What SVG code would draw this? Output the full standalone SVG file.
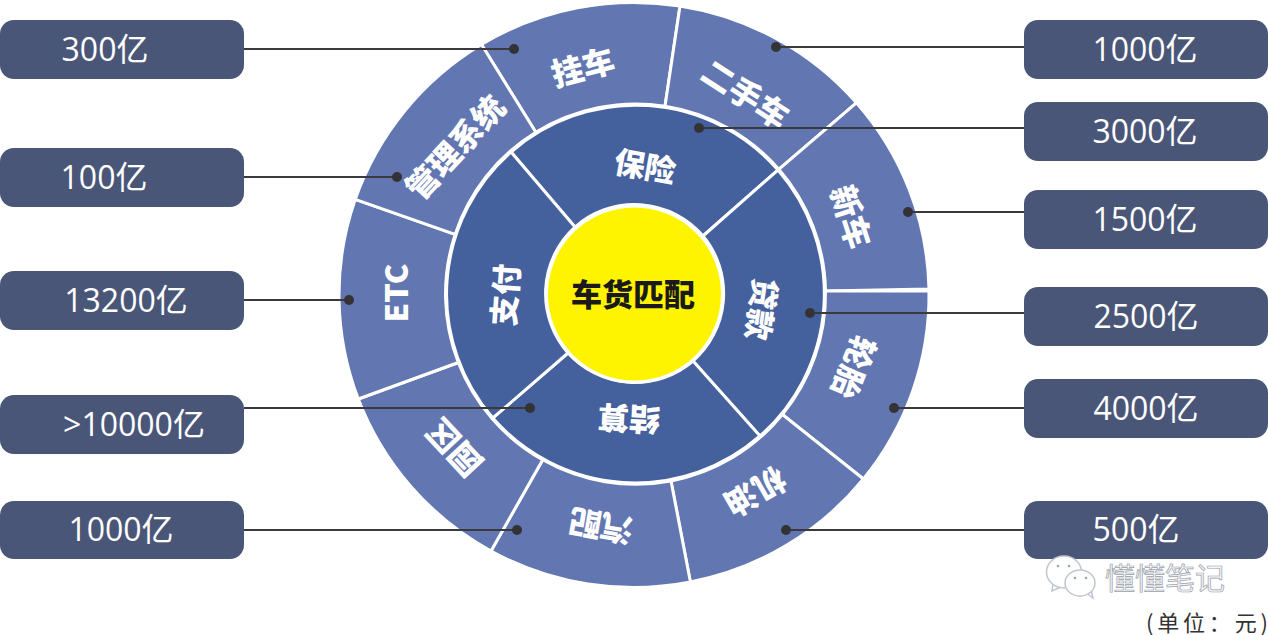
<svg xmlns="http://www.w3.org/2000/svg" width="1268" height="635" viewBox="0 0 1268 635">
<style>
.o{fill:#6277b1;stroke:#fff;stroke-width:3;stroke-linejoin:miter}
.i{fill:#44609d;stroke:#fff;stroke-width:3;stroke-linejoin:miter}
.w{font-family:"Noto Sans CJK SC","Noto Sans",sans-serif;font-weight:900;font-size:32px;fill:#fff;text-anchor:middle}
.n{font-size:31px}
.b{fill:#4a5678}
.l{font-family:"Open Sans","Noto Sans CJK SC",sans-serif;font-size:32px;fill:#fff;text-anchor:middle}
.c{stroke:#3a3a3c;stroke-width:2;fill:none}
.d{fill:#333335}
.wm{fill:#fff;stroke:#c0c5cf;stroke-width:1.5}
</style>
<rect width="1268" height="635" fill="#fff"/>
<g id="outer-ring">
<g id="guache"><path class="o" d="M481.5 44.5A295 292.5 0 0 1 680 6L665 106.3A190 190 0 0 0 535.8 132.3Z"/><text class="w" transform="translate(583 68) rotate(-15)" y="11">挂车</text></g>
<g id="ershouche"><path class="o" d="M680 6A295 292.5 0 0 1 856.4 102.8L778.8 169.3A190 190 0 0 0 665 106.3Z"/><text class="w" transform="translate(745 95) rotate(33)" y="11">二手车</text></g>
<g id="xinche"><path class="o" d="M856.4 102.8A295 292.5 0 0 1 929 289L825.5 291A190 190 0 0 0 778.8 169.3Z"/><text class="w" transform="translate(850 217) rotate(72)" y="11">新车</text></g>
<g id="luntai"><path class="o" d="M929 291A295 292.5 0 0 1 863.4 479L782.4 414.5A190 190 0 0 0 825.5 291Z"/><text class="w" transform="translate(853 367) rotate(112)" y="11">轮胎</text></g>
<g id="jiyou"><path class="o" d="M863.4 479A295 292.5 0 0 1 690.4 582L671 481A190 190 0 0 0 782.4 414.5Z"/><text class="w" transform="translate(755 491) rotate(150)" y="11">机油</text></g>
<g id="qipei"><path class="o" d="M690.4 582A295 292.5 0 0 1 491 551L542.7 459.8A190 190 0 0 0 671 481Z"/><text class="w" transform="translate(601 525) rotate(190)" y="11">汽配</text></g>
<g id="yuanqu"><path class="o" d="M491 551A295 292.5 0 0 1 358.3 399L458.3 362.5A190 190 0 0 0 542.7 459.8Z"/><text class="w" transform="translate(455 447) rotate(227)" y="11">园区</text></g>
<g id="etc"><path class="o" d="M358.3 399A295 292.5 0 0 1 355.2 199.4L455.1 234.4A190 190 0 0 0 458.3 362.5Z"/><text class="w n" transform="translate(397 293) rotate(-90)" y="11">ETC</text></g>
<g id="guanli"><path class="o" d="M355.2 199.4A295 292.5 0 0 1 481.5 44.5L535.8 132.3A190 190 0 0 0 455.1 234.4Z"/><text class="w" transform="translate(456 148) rotate(-47)" y="11">管理系统</text></g>
</g>
<g id="inner-ring">
<g id="baoxian"><path class="i" d="M511 152A189 189 0 0 1 778 170L703 236A90 90 0 0 0 575 227Z"/><text class="w n" transform="translate(645 167) rotate(10)" y="11">保险</text></g>
<g id="daikuan"><path class="i" d="M778 170A189 189 0 0 1 760 436L693 361A90 90 0 0 0 703 236Z"/><text class="w n" transform="translate(761 309) rotate(98)" y="11">贷款</text></g>
<g id="jiesuan"><path class="i" d="M760 436A189 189 0 0 1 492.8 418L568 353A90 90 0 0 0 693 361Z"/><text class="w n" transform="translate(629 418) rotate(183)" y="11">结算</text></g>
<g id="zhifu"><path class="i" d="M492.8 418A189 189 0 0 1 511 152L575 227A90 90 0 0 0 568 353Z"/><text class="w n" transform="translate(506 295) rotate(-86)" y="11">支付</text></g>
</g>
<g id="center">
<circle cx="634.5" cy="294" r="88" fill="#fff400" stroke="#fff" stroke-width="3"/>
<text class="w n" x="633" y="306" style="fill:#1a1a1a">车货匹配</text>
</g>
<g id="connectors">
<path class="c" d="M244 49H514M244 177H397M244 300H349M244 408H530M244 530H517M1024 47H776M1024 128H699M1024 212H908M1024 313H810M1024 408H894M1024 530H786"/>
<circle class="d" cx="514" cy="49" r="5"/><circle class="d" cx="397" cy="177" r="5"/><circle class="d" cx="349" cy="300" r="5"/><circle class="d" cx="530" cy="408" r="5"/><circle class="d" cx="517" cy="530" r="5"/>
<circle class="d" cx="776" cy="47" r="5"/><circle class="d" cx="699" cy="128" r="5"/><circle class="d" cx="908" cy="212" r="5"/><circle class="d" cx="810" cy="313" r="5"/><circle class="d" cx="894" cy="408" r="5"/><circle class="d" cx="786" cy="530" r="5"/>
</g>
<g id="v300"><rect class="b" x="0" y="20" width="244" height="59" rx="14"/><text class="l" x="105" y="61">300亿</text></g>
<g id="v100"><rect class="b" x="0" y="148" width="244" height="59" rx="14"/><text class="l" x="104" y="189">100亿</text></g>
<g id="v13200"><rect class="b" x="0" y="271" width="244" height="59" rx="14"/><text class="l" x="126" y="312">13200亿</text></g>
<g id="v10000"><rect class="b" x="0" y="395" width="244" height="59" rx="14"/><text class="l" x="134" y="436">&gt;10000亿</text></g>
<g id="v1000l"><rect class="b" x="0" y="501" width="244" height="58" rx="14"/><text class="l" x="121" y="541">1000亿</text></g>
<g id="v1000r"><rect class="b" x="1024" y="20" width="244" height="59" rx="14"/><text class="l" x="1145" y="61">1000亿</text></g>
<g id="v3000"><rect class="b" x="1024" y="102" width="244" height="59" rx="14"/><text class="l" x="1145" y="143">3000亿</text></g>
<g id="v1500"><rect class="b" x="1024" y="190" width="244" height="59" rx="14"/><text class="l" x="1145" y="231">1500亿</text></g>
<g id="v2500"><rect class="b" x="1024" y="287" width="244" height="59" rx="14"/><text class="l" x="1146" y="328">2500亿</text></g>
<g id="v4000"><rect class="b" x="1024" y="379" width="244" height="59" rx="14"/><text class="l" x="1146" y="420">4000亿</text></g>
<g id="v500"><rect class="b" x="1024" y="501" width="244" height="58" rx="14"/><text class="l" x="1136" y="541">500亿</text></g>
<g id="watermark">
<path class="wm" d="M1053 584L1052 591L1061 587"/>
<ellipse class="wm" cx="1064" cy="572" rx="17.5" ry="16"/>
<path class="wm" d="M1086 593L1093 598L1091 590"/>
<ellipse class="wm" cx="1080" cy="583" rx="15" ry="13"/>
<circle cx="1058" cy="566" r="1.3" fill="#9aa3b5"/><circle cx="1069" cy="566" r="1.3" fill="#9aa3b5"/><circle cx="1075" cy="578" r="1.3" fill="#9aa3b5"/><circle cx="1086" cy="578" r="1.3" fill="#9aa3b5"/>
<text x="1105" y="589" style="font-family:'Noto Sans CJK SC',sans-serif;font-size:30px;fill:#f4f5f7;stroke:#9aa0aa;stroke-width:.7">懂懂笔记</text>
</g>
<text x="1146" y="631" style="font-family:'Noto Sans CJK SC',sans-serif;font-size:22px;fill:#333;letter-spacing:3.8px">(单位：元<tspan style="letter-spacing:0">)</tspan></text>
</svg>
